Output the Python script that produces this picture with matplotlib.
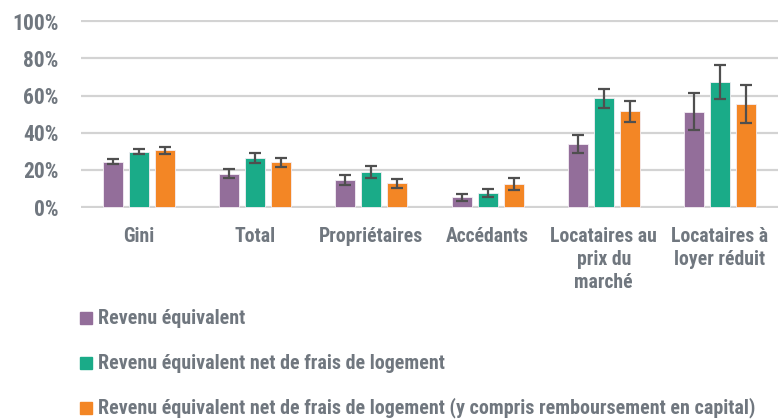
import matplotlib
matplotlib.use("Agg")
import matplotlib.pyplot as plt
import numpy as np
from matplotlib.patches import Rectangle
from matplotlib import font_manager as fm
import matplotlib.transforms as mtrans

categories = ["Gini", "Total", "Propriétaires", "Accédants",
              "Locataires au\nprix du\nmarché", "Locataires à\nloyer réduit"]
series_names = ["Revenu équivalent",
                "Revenu équivalent net de frais de logement",
                "Revenu équivalent net de frais de logement (y compris remboursement en capital)"]
rev_eq = [24.4, 17.9, 14.5, 5.2, 34.1, 51.2]
rev_eq_err = [1.5, 2.3, 2.7, 2.0, 4.8, 10.0]
rev_net = [29.8, 26.2, 19.0, 7.5, 58.5, 67.3]
rev_net_err = [1.5, 2.7, 3.2, 2.2, 5.1, 9.4]
rev_net_cap = [30.5, 24.2, 12.8, 12.4, 51.5, 55.3]
rev_net_cap_err = [1.9, 2.4, 2.4, 3.0, 5.5, 10.2]
yticks = [0, 20, 40, 60, 80, 100]
ytick_labels = ["0%", "20%", "40%", "60%", "80%", "100%"]

colors = ["#936e9a", "#1aab88", "#f38625"]
grey = "#70777f"

available = {f.name for f in fm.fontManager.ttflist}
prefs = ["Roboto Condensed", "Archivo Narrow", "PT Sans Narrow", "Asap Condensed",
         "Liberation Sans Narrow", "DejaVu Sans"]
main_font = next(p for p in prefs if p in available)
FONT = [main_font, "DejaVu Sans"]

W, H = 778, 419
fig = plt.figure(figsize=(W / 100, H / 100), dpi=100)
ylo, yhi = -0.5, 100.5
y0_px, y100_px = 207.0, 21.3
ppu = (y0_px - y100_px) / 100
bot_px = y0_px + 0.5 * ppu
top_px = y100_px - 0.5 * ppu
ax = fig.add_axes([81 / W, 1 - bot_px / H, (778 - 81) / W, (bot_px - top_px) / H])

x = np.arange(len(categories))
bw = 0.172
step = 0.224
data = [(rev_eq, rev_eq_err), (rev_net, rev_net_err), (rev_net_cap, rev_net_cap_err)]
for i, (vals, errs) in enumerate(data):
    pos = x + (i - 1) * step
    ax.bar(pos, vals, width=bw, color=colors[i], edgecolor="#f4eef4", linewidth=0.6, zorder=3)
    ax.errorbar(pos, vals, yerr=errs, fmt="none", ecolor="#4f4f4f", elinewidth=1.6,
                capsize=4.2, capthick=1.6, zorder=4)

ax.set_xlim(-0.5, len(categories) - 0.5)
ax.set_ylim(ylo, yhi)
ax.set_yticks(yticks)
ax.set_yticklabels(ytick_labels)
ax.yaxis.grid(True, color="#d3d3d3", linewidth=1.6, zorder=0)
ax.set_axisbelow(True)
for s in ax.spines.values():
    s.set_visible(False)
ax.tick_params(axis="y", length=0, pad=16, labelsize=15.5, labelcolor=grey)
for lab in ax.get_yticklabels():
    lab.set_fontfamily(FONT)
    lab.set_fontweight("bold")
ax.set_xticks([])

tr = mtrans.blended_transform_factory(ax.transData, fig.transFigure)
for xi, cat in zip(x, categories):
    ax.text(xi, 1 - 227 / H, cat, transform=tr,
            ha="center", va="top", fontsize=14.2, fontweight="bold", color=grey,
            family=FONT, linespacing=1.27)

legend_rows = [318, 363, 408]
for name, col, yp in zip(series_names, colors, legend_rows):
    fig.patches.append(Rectangle((80 / W, 1 - (yp + 6) / H), 12 / W, 12 / H,
                                 transform=fig.transFigure, color=col, figure=fig))
    fig.text(98 / W, 1 - yp / H, name, ha="left", va="center", fontsize=14.4,
             fontweight="bold", color=grey, family=FONT)

fig.savefig("out.png", dpi=100)
